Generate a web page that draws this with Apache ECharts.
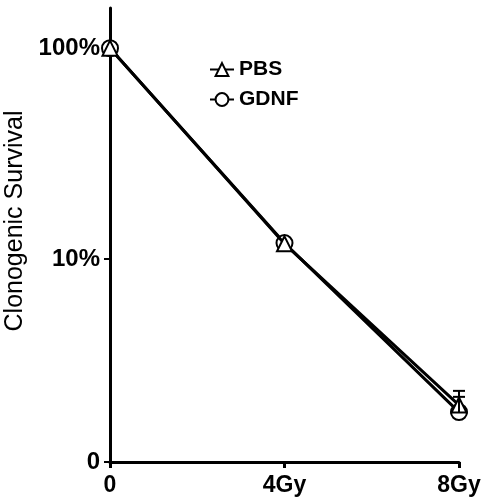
<!DOCTYPE html>
<html>
<head>
<meta charset="utf-8">
<script src="https://cdn.jsdelivr.net/npm/echarts@6/dist/echarts.min.js"></script>
<style>html,body{margin:0;padding:0;background:#fff;}#c{width:489px;height:500px;}</style>
</head>
<body>
<div id="c"></div>
<script>
var doses = [0, 4, 8];
var xTickLabels = ['0', '4Gy', '8Gy'];
var pbs = [100, 11.8, 2.03];
var gdnf = [100, 11.9, 1.88];
var pbsErrUpper = [null, null, 2.37];
var gdnfErrUpper = [null, null, 2.22];
var yMin = 1.09, yMax = 155;
var yTickValues = [1.09, 10, 100];
var yTickLabels = ['0', '10%', '100%'];

function pairs(vals) { return doses.map(function (d, i) { return [d, vals[i]]; }); }
var errData = [];
doses.forEach(function (d, i) {
  if (pbsErrUpper[i] != null) errData.push([d, pbs[i], pbsErrUpper[i]]);
  if (gdnfErrUpper[i] != null) errData.push([d, gdnf[i], gdnfErrUpper[i]]);
});

var font = "'Liberation Sans', Arial, Helvetica, sans-serif";
var chart = echarts.init(document.getElementById('c'), null, {renderer: 'canvas'});
chart.setOption({
  animation: false,
  backgroundColor: '#fff',
  grid: {left: 110, right: 30, top: 8, bottom: 38, containLabel: false, outerBoundsMode: 'none'},
  legend: {
    orient: 'vertical', left: 204, top: 54, itemGap: 9,
    itemWidth: 24, itemHeight: 16,
    data: ['PBS', 'GDNF'],
    textStyle: {fontFamily: font, fontWeight: 'bold', fontSize: 21, color: '#000'}
  },
  xAxis: {
    type: 'value', min: 0, max: 8, interval: 4,
    axisLine: {lineStyle: {color: '#000', width: 3}},
    axisTick: {length: 6, lineStyle: {color: '#000', width: 3}},
    splitLine: {show: false},
    axisLabel: {
      margin: 12, fontFamily: font, fontWeight: 'bold', fontSize: 23, color: '#000',
      formatter: function (v) { var i = doses.indexOf(v); return i >= 0 ? xTickLabels[i] : ''; }
    }
  },
  yAxis: {
    type: 'log', logBase: 10, min: yMin, max: yMax,
    name: 'Clonogenic Survival', nameLocation: 'middle', nameGap: 82,
    nameTextStyle: {fontFamily: font, fontSize: 25, color: '#000', padding: [0, 0, 0, 28]},
    axisLine: {show: true, lineStyle: {color: '#000', width: 3}},
    axisTick: {show: true, length: 6, lineStyle: {color: '#000', width: 2}, customValues: yTickValues},
    splitLine: {show: false},
    axisLabel: {
      margin: 10, fontFamily: font, fontWeight: 'bold', fontSize: 24, color: '#000',
      customValues: yTickValues,
      formatter: function (v) {
        for (var i = 0; i < yTickValues.length; i++) if (Math.abs(v - yTickValues[i]) < 1e-6 * yTickValues[i]) return yTickLabels[i];
        return '';
      }
    }
  },
  series: [
    {
      name: 'PBS', type: 'line', data: pairs(pbs),
      symbol: 'emptyTriangle', symbolSize: 15,
      lineStyle: {color: '#000', width: 3},
      itemStyle: {color: '#000', borderWidth: 3},
      z: 3
    },
    {
      name: 'GDNF', type: 'line', data: pairs(gdnf),
      symbol: 'emptyCircle', symbolSize: 16,
      lineStyle: {color: '#000', width: 3},
      itemStyle: {color: '#000', borderWidth: 3},
      z: 2
    },
    {
      type: 'custom', data: errData, z: 4,
      renderItem: function (params, api) {
        var x = api.value(0);
        var p0 = api.coord([x, api.value(1)]);
        var p1 = api.coord([x, api.value(2)]);
        var w = 6;
        return {
          type: 'group',
          children: [
            {type: 'line', shape: {x1: p0[0], y1: p0[1], x2: p1[0], y2: p1[1]}, style: {stroke: '#000', lineWidth: 2}},
            {type: 'line', shape: {x1: p1[0] - w, y1: p1[1], x2: p1[0] + w, y2: p1[1]}, style: {stroke: '#000', lineWidth: 2}}
          ]
        };
      }
    }
  ]
});
</script>
</body>
</html>
